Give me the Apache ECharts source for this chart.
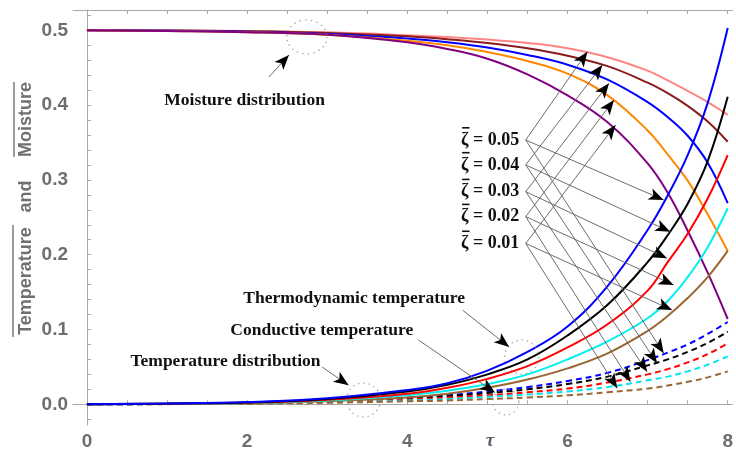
<!DOCTYPE html>
<html><head><meta charset="utf-8">
<script src="https://cdn.jsdelivr.net/npm/echarts@6/dist/echarts.min.js"></script>
<style>html,body{margin:0;padding:0;background:#fff}#c{width:736px;height:454px}</style>
</head><body><div id="c"></div>
<script>
// ---- data ----
const tau = [0,1,2,3,4,4.5,5,5.5,6,6.5,7,7.25,7.5,7.75,8];
// moisture distribution (zeta = 0.05 ... 0.01)
const mPink    = [0.5,0.4997,0.4991,0.4972,0.4935,0.491,0.4875,0.483,0.476,0.464,0.446,0.433,0.419,0.404,0.387];
const mDarkRed = [0.5,0.4997,0.4988,0.4965,0.492,0.488,0.483,0.476,0.466,0.452,0.430,0.416,0.399,0.378,0.351];
const mBlue    = [0.5,0.4995,0.498,0.495,0.489,0.484,0.477,0.467,0.454,0.434,0.404,0.384,0.359,0.323,0.269];
const mOrange  = [0.5,0.499,0.4975,0.494,0.486,0.480,0.471,0.459,0.442,0.413,0.366,0.334,0.299,0.254,0.205];
const mPurple  = [0.5,0.499,0.4975,0.494,0.484,0.475,0.462,0.441,0.413,0.377,0.322,0.283,0.232,0.176,0.114];
// thermodynamic temperature (solid)
const tBlue  = [0,0.001,0.003,0.008,0.019,0.028,0.045,0.070,0.104,0.158,0.233,0.279,0.333,0.403,0.503];
const tBlack = [0,0.001,0.0025,0.007,0.017,0.026,0.040,0.060,0.092,0.133,0.190,0.226,0.268,0.325,0.411];
const tRed   = [0,0.0008,0.002,0.006,0.014,0.022,0.034,0.051,0.076,0.107,0.152,0.19,0.228,0.275,0.333];
const tCyan  = [0,0.0006,0.0016,0.005,0.012,0.018,0.027,0.040,0.060,0.084,0.115,0.138,0.17,0.21,0.262];
const tBrown = [0,0.0005,0.0013,0.004,0.009,0.014,0.022,0.033,0.048,0.068,0.098,0.118,0.142,0.170,0.205];
// conductive temperature (dashed)
const dBlue  = [0,0.0005,0.0015,0.004,0.009,0.012,0.017,0.023,0.031,0.042,0.059,0.069,0.080,0.094,0.110];
const dBlack = [0,0.0004,0.0013,0.0035,0.008,0.011,0.015,0.020,0.027,0.037,0.052,0.060,0.070,0.082,0.097];
const dRed   = [0,0.0003,0.001,0.003,0.006,0.009,0.012,0.016,0.021,0.029,0.040,0.047,0.056,0.067,0.0815];
const dCyan  = [0,0.0003,0.0009,0.0025,0.005,0.007,0.010,0.013,0.017,0.023,0.032,0.037,0.044,0.053,0.064];
const dBrown = [0,0.0002,0.0007,0.002,0.004,0.005,0.007,0.009,0.012,0.016,0.021,0.025,0.030,0.036,0.044];

const xTickLabels = [0,2,4,6,8];
const yTickLabels = [0,0.1,0.2,0.3,0.4,0.5];
const zetaValues = ['0.05','0.04','0.03','0.02','0.01'];

// annotation anchors (data coordinates)
const zetaTextAt   = [[5.404,0.3533],[5.404,0.320],[5.404,0.2843],[5.404,0.2509],[5.404,0.2150]];
const zetaFrom     = [[5.478,0.3533],[5.478,0.320],[5.478,0.2843],[5.478,0.2509],[5.478,0.2150]];
const moistTips    = [[6.248,0.4714],[6.435,0.4536],[6.518,0.4291],[6.580,0.4068],[6.600,0.3734]];
const solidTips    = [[7.201,0.2731],[7.283,0.2307],[7.242,0.1952],[7.325,0.1595],[7.304,0.1261]];
const dashTips     = [[7.201,0.0682],[7.118,0.0548],[6.994,0.0436],[6.786,0.0302],[6.621,0.0214]];
const noteTexts    = ['Moisture distribution','Thermodynamic temperature','Conductive temperature','Temperature distribution'];
const noteAt       = [[1.969,0.4068],[3.336,0.1408],[2.932,0.0993],[1.730,0.0572]];
const noteArrows   = [[[2.273,0.4376],[2.522,0.4670]],[[4.692,0.1257],[5.271,0.0766]],[[4.137,0.0860],[5.093,0.0158]],[[2.935,0.0499],[3.267,0.0254]]];
const circleAt     = [[2.745,0.4911],[5.429,0.0633],[5.230,0.0031],[3.453,0.0057]];
const circleSize   = [[40,34],[34,34],[26,26],[34,34]];

// ---- chart ----
const pts = a => tau.map((t,i)=>[t,a[i]]);
function line(name, arr, color, dashed){
  return {type:'line', name, data:pts(arr), showSymbol:false, symbol:'none', smooth:0.4,
    lineStyle:{color, width:2, type: dashed ? [6,4] : 'solid'}, silent:true, z:3};
}
const series = [
  line('m1',mPink,'#ff8585'), line('m2',mDarkRed,'#8b1c1c'), line('m3',mBlue,'#0000ff'),
  line('m4',mOrange,'#ff8800'), line('m5',mPurple,'#800080'),
  line('d1',dBlue,'#0000ff',1), line('d2',dBlack,'#000000',1), line('d3',dRed,'#ff0000',1),
  line('d4',dCyan,'#00e5ee',1), line('d5',dBrown,'#996633',1),
  line('t5',tBrown,'#996633'), line('t4',tCyan,'#00f0f0'), line('t3',tRed,'#ff0000'),
  line('t2',tBlack,'#000000'), line('t1',tBlue,'#0000ff')
];
const arrowData = [];
for (let i=0;i<5;i++){
  arrowData.push([{coord:zetaFrom[i]},{coord:moistTips[i]}]);
  arrowData.push([{coord:zetaFrom[i]},{coord:solidTips[i]}]);
  arrowData.push([{coord:zetaFrom[i]},{coord:dashTips[i]}]);
}
noteArrows.forEach(a=>arrowData.push([{coord:a[0]},{coord:a[1]}]));
const serifBold = {fontFamily:'"Liberation Serif", serif', fontWeight:'bold', color:'#111'};
const zetaFont = 'bold 18px "Liberation Serif", serif';
// grey arrow shafts
series.push({
  type:'line', data:[], silent:true, z:5,
  markLine:{silent:true, symbol:['none','none'], animation:false,
    lineStyle:{color:'#5c5c5c', width:0.9, type:'solid'}, label:{show:false}, emphasis:{disabled:true},
    data:arrowData}
});
// black arrow heads
series.push({
  type:'line', data:[], silent:true, z:6,
  markLine:{silent:true, symbol:['none','arrow'], symbolSize:[9,15], animation:false,
    lineStyle:{color:'#000', width:0, type:'solid'}, label:{show:false}, emphasis:{disabled:true},
    data:arrowData}
});
// annotation texts
series.push({
  type:'line', data:[], silent:true, z:7,
  markPoint:{silent:true, symbol:'circle', symbolSize:1, itemStyle:{color:'rgba(0,0,0,0)'}, animation:false,
    data: zetaValues.map((t,i)=>({coord:zetaTextAt[i], label:Object.assign({show:true, position:'left', distance:0,
        formatter:'ζ = ' + t}, serifBold, {fontSize:18})}))
      .concat(noteTexts.map((t,i)=>({coord:noteAt[i], label:Object.assign({show:true, position:'inside', formatter:t}, serifBold, {fontSize:17.5})})))}
});
series.push({
  type:'scatter', silent:true, z:4,
  data: circleAt.map((c,i)=>({value:c, symbolSize:circleSize[i]})),
  symbol:'circle',
  itemStyle:{color:'rgba(0,0,0,0)', borderColor:'#8a8a8a', borderWidth:1.3, borderType:[1.3,4]}
});

const axisLineStyle = {show:true, lineStyle:{color:'#a8a8a8', width:1}};
const xTicks = []; for (let k=0;k<=16;k++) xTicks.push(k*0.5);
const yTicks = []; for (let k=-1;k<=26;k++) yTicks.push(Math.round(k*2)/100);
const labelFont = {color:'#6e6e6e', fontSize:19, fontWeight:'bold', fontFamily:'"Liberation Sans", Arial, sans-serif'};
const titleFont = 'bold 18px "Liberation Sans", Arial, sans-serif';

const graphics = [
  {type:'text', x:26, y:281, rotation:Math.PI/2, silent:true,
   style:{text:'Temperature', font:titleFont, fill:'#707070', align:'center', verticalAlign:'middle'}},
  {type:'text', x:26, y:196.5, rotation:Math.PI/2, silent:true,
   style:{text:'and', font:titleFont, fill:'#707070', align:'center', verticalAlign:'middle'}},
  {type:'text', x:26, y:119.5, rotation:Math.PI/2, silent:true,
   style:{text:'Moisture', font:titleFont, fill:'#707070', align:'center', verticalAlign:'middle'}},
  {type:'line', silent:true, shape:{x1:13, y1:337, x2:13, y2:225}, style:{stroke:'#707070', lineWidth:1.4}},
  {type:'line', silent:true, shape:{x1:14, y1:157, x2:14, y2:82}, style:{stroke:'#707070', lineWidth:1.4}},
  {type:'text', x:490, y:441, silent:true,
   style:{text:'τ', font:'italic bold 19px "Liberation Serif", serif', fill:'#5a6070', align:'center', verticalAlign:'middle'}}
];

const chart = echarts.init(document.getElementById('c'), null, {renderer:'canvas'});
chart.setOption({
  animation:false,
  grid:{left:73, right:0, top:10, bottom:29, containLabel:false},
  xAxis:[
    {type:'value', min:-0.174, max:8.06, position:'bottom', axisLine:axisLineStyle,
     axisTick:{show:true, inside:true, length:4, customValues:xTicks, lineStyle:{color:'#a8a8a8'}},
     axisLabel:Object.assign({show:true, margin:7, customValues:xTickLabels, formatter:v=>String(v)}, labelFont),
     splitLine:{show:false}},
    {type:'value', min:-0.174, max:8.06, position:'top', axisLine:axisLineStyle,
     axisTick:{show:true, inside:true, length:4, customValues:xTicks, lineStyle:{color:'#a8a8a8'}},
     axisLabel:{show:false}, splitLine:{show:false}}
  ],
  yAxis:[
    {type:'value', min:-0.0277, max:0.5271, position:'left', axisLine:axisLineStyle,
     axisTick:{show:true, inside:true, length:4, customValues:yTicks, lineStyle:{color:'#a8a8a8'}},
     axisLabel:Object.assign({show:true, margin:5, customValues:yTickLabels, formatter:v=>v.toFixed(1)}, labelFont),
     splitLine:{show:false}}
  ],
  series
});

// overbars on the zeta symbols, placed from the label anchors through the chart's scales
const ctx = document.createElement('canvas').getContext('2d');
ctx.font = zetaFont;
zetaValues.forEach((t,i)=>{
  const p = chart.convertToPixel({xAxisIndex:0, yAxisIndex:0}, zetaTextAt[i]);
  let full = ctx.measureText('ζ = ' + t).width;
  let zw = ctx.measureText('ζ').width;
  if (!(full > 0)) { full = 60; zw = 8; }
  const left = p[0] - full;
  graphics.push({type:'rect', silent:true, z:100,
    shape:{x:left + 0.5, y:p[1] - 13, width:zw, height:1.6},
    style:{fill:'#111'}});
});
chart.setOption({graphic:graphics});
</script></body></html>
